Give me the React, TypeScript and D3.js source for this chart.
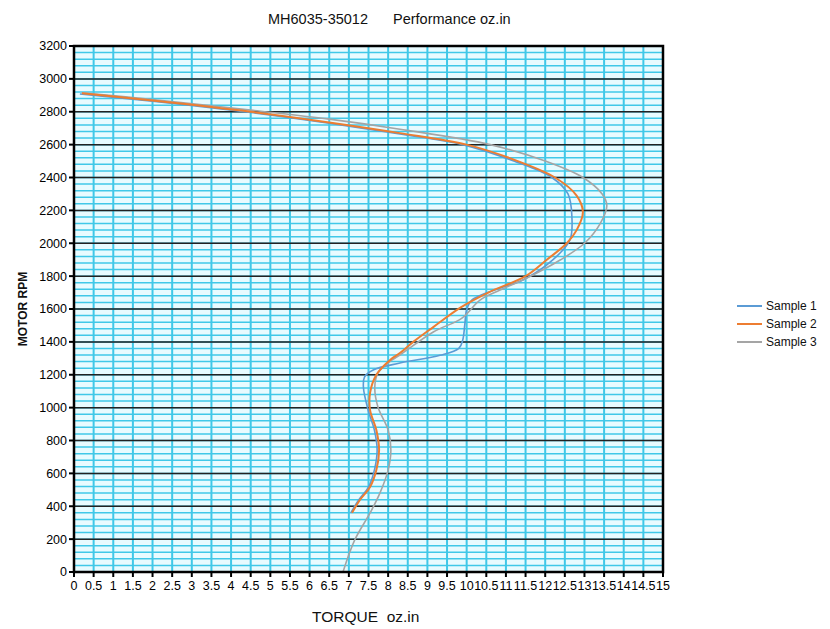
import React from "react";
import * as d3 from "d3";

const title1 = "MH6035-35012";
const title2 = "Performance oz.in";
const xLabel = "TORQUE\u00a0\u00a0oz.in";
const yLabel = "MOTOR RPM";

const seriesNames = ["Sample 1", "Sample 2", "Sample 3"];
const seriesColors = ["#5b9bd5", "#ed7d31", "#a5a5a5"];

// [torque, rpm]
const sample1: [number, number][] = [
  [0.15, 2908], [2, 2864], [4.5, 2795], [6.5, 2730], [8.3, 2665], [9.9, 2600],
  [11.2, 2500], [12.17, 2400], [12.58, 2300], [12.68, 2160], [12.63, 2020],
  [12.2, 1900], [11.43, 1776], [10.85, 1727], [10.13, 1654], [10.0, 1594],
  [9.95, 1500], [9.9, 1411], [9.8, 1360], [9.32, 1318], [8.3, 1271], [7.62, 1229],
  [7.4, 1187], [7.37, 1125], [7.49, 985], [7.65, 864], [7.72, 742], [7.65, 620],
  [7.5, 517], [7.25, 438], [7.05, 360],
];
const sample2: [number, number][] = [
  [0.2, 2912], [2, 2868], [4.5, 2800], [6.5, 2735], [8.3, 2670], [10.0, 2600],
  [11.3, 2500], [12.25, 2400], [12.8, 2290], [12.96, 2190], [12.8, 2080],
  [12.55, 2000], [12.04, 1900], [11.5, 1800], [10.55, 1700], [9.85, 1610],
  [9.15, 1490], [8.64, 1400], [8.3, 1332], [8.05, 1290], [7.7, 1200], [7.54, 1090],
  [7.54, 985], [7.7, 864], [7.77, 742], [7.7, 620], [7.54, 517], [7.28, 438],
  [7.08, 360],
];
const sample3: [number, number][] = [
  [0.2, 2915], [2, 2875], [4.5, 2810], [6.5, 2755], [8.3, 2694], [10.6, 2600],
  [12.0, 2500], [12.96, 2400], [13.45, 2300], [13.57, 2230], [13.4, 2120],
  [13.0, 2000], [12.38, 1898], [11.53, 1788], [10.85, 1715], [10.34, 1654],
  [9.88, 1545], [9.15, 1460], [8.3, 1320], [8.1, 1290], [7.74, 1210], [7.66, 1125],
  [7.74, 1004], [8.0, 864], [8.07, 742], [8.0, 620], [7.79, 480], [7.54, 359],
  [7.15, 195], [6.85, 0],
];
const allSeries = [sample1, sample2, sample3];

const xTicks = d3.range(0, 15.001, 0.5);
const yTicks = d3.range(0, 3201, 200);
const yMinor = d3.range(0, 3201, 40);

const W = 830, H = 629;
const left = 74, right = 663, top = 46, bottom = 572;

export default function App() {
  const x = d3.scaleLinear().domain([0, 15]).range([left, right]);
  const y = d3.scaleLinear().domain([0, 3200]).range([bottom, top]);
  const line = d3
    .line<[number, number]>()
    .x((d) => x(d[0]))
    .y((d) => y(d[1]))
    .curve(d3.curveCatmullRom.alpha(0.5));
  const font = "'Liberation Sans', Arial, sans-serif";
  const drawOrder = [0, 2, 1];
  return (
    <svg
      width={W}
      height={H}
      style={{ position: "absolute", left: 0, top: 0, background: "#fff" }}
      fontFamily={font}
    >
      <rect x={left} y={top} width={right - left} height={bottom - top} fill="#e8fbff" />
      {yMinor.map((v) => (
        <line key={"ym" + v} x1={left} x2={right} y1={y(v)} y2={y(v)} stroke="#40c8e8" strokeWidth={1.5} />
      ))}
      {xTicks.map((v) => (
        <line key={"xg" + v} x1={x(v)} x2={x(v)} y1={top} y2={bottom} stroke="#40c8e8" strokeWidth={2} />
      ))}
      {yTicks.map((v) => (
        <line key={"yg" + v} x1={left} x2={right} y1={y(v)} y2={y(v)} stroke="#222" strokeWidth={1.5} />
      ))}
      {drawOrder.map((i) => (
        <path key={"s" + i} d={line(allSeries[i]) || ""} fill="none" stroke={seriesColors[i]} strokeWidth={i === 1 ? 2 : 1.6} />
      ))}
      <rect x={left} y={top} width={right - left} height={bottom - top} fill="none" stroke="#000" strokeWidth={2.5} />
      {yTicks.map((v) => (
        <g key={"yt" + v}>
          <line x1={left - 5} x2={left} y1={y(v)} y2={y(v)} stroke="#000" strokeWidth={2} />
          <text x={left - 7} y={y(v)} dy="0.35em" textAnchor="end" fontSize={12.5} fill="#000">
            {v}
          </text>
        </g>
      ))}
      {xTicks.map((v) => (
        <g key={"xt" + v}>
          <line x1={x(v)} x2={x(v)} y1={bottom} y2={bottom + 5} stroke="#000" strokeWidth={2} />
          <text x={x(v)} y={bottom + 18} textAnchor="middle" fontSize={12.5} fill="#000">
            {String(v)}
          </text>
        </g>
      ))}
      <text x={268} y={24} fontSize={14.5} fill="#111">{title1}</text>
      <text x={393} y={24} fontSize={14.5} fill="#111">{title2}</text>
      <text x={312} y={622} fontSize={15.5} fill="#111">{xLabel}</text>
      <text
        transform={`translate(27,${(top + bottom) / 2}) rotate(-90)`}
        textAnchor="middle"
        fontSize={12}
        fontWeight="bold"
        fill="#111"
      >
        {yLabel}
      </text>
      {seriesNames.map((n, i) => (
        <g key={n} transform={`translate(737,${306 + i * 18})`}>
          <line x1={0} x2={25} y1={0} y2={0} stroke={seriesColors[i]} strokeWidth={2} />
          <text x={29} y={0} dy="0.35em" fontSize={12} fill="#111">
            {n}
          </text>
        </g>
      ))}
    </svg>
  );
}
